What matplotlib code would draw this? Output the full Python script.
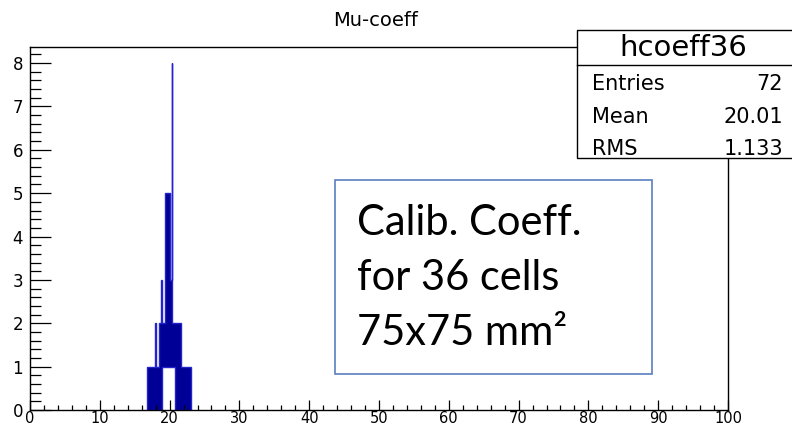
import numpy as np
import matplotlib
matplotlib.use("Agg")
import matplotlib.pyplot as plt
from matplotlib.patches import Rectangle
from matplotlib.ticker import MultipleLocator

# histogram (bin edges, counts, fill floor)
edges = [16.7, 17.9, 18.0, 18.5, 18.8, 18.9, 19.3, 20.0, 20.3, 20.4, 20.8, 21.6, 23.0]
counts = [1, 2, 1, 2, 3, 2, 5, 3, 8, 2, 2, 1]
floor = [0, 0, 0, 0, 0, 1, 1, 1, 1, 1, 0, 0]

title = "Mu-coeff"
hist_name = "hcoeff36"
stat_names = ["Entries", "Mean", "RMS"]
stat_values = ["72", "20.01", "1.133"]
note_lines = ["Calib. Coeff.", "for 36 cells", "75x75 mm\u00b2"]

fig = plt.figure(figsize=(7.92, 4.30), dpi=100)
ax = fig.add_axes([30/792, 20/430, 698/792, 363/430])

ax.stairs(counts, edges, baseline=floor, fill=True,
          facecolor="#000096", edgecolor="#2424cc", linewidth=1.0)

ax.set_xlim(0, 100)
ax.set_ylim(0, 8.37)
ax.xaxis.set_major_locator(MultipleLocator(10))
ax.xaxis.set_minor_locator(MultipleLocator(2))
ax.yaxis.set_major_locator(MultipleLocator(1))
ax.yaxis.set_minor_locator(MultipleLocator(0.2))
ax.tick_params(axis="x", which="major", direction="in", length=7, width=0.9, pad=0.5, labelsize=10.5)
ax.tick_params(axis="x", which="minor", direction="in", length=3.3, width=0.9)
ax.tick_params(axis="y", which="major", direction="in", length=15, width=0.9, pad=5, labelsize=12)
ax.tick_params(axis="y", which="minor", direction="in", length=8, width=0.9)
for s in ax.spines.values():
    s.set_linewidth(1.0)

fig.text(376/792, 1 - 26/430, title, ha="center", va="baseline", fontsize=14)

# stats box (ROOT style), runs off the right edge
fig.add_artist(Rectangle((577/792, 1 - 158/430), 0.3, 128/430, transform=fig.transFigure,
                         facecolor="white", edgecolor="black", linewidth=1.0, zorder=5))
fig.add_artist(plt.Line2D([577/792, 1.0], [1 - 65/430, 1 - 65/430], transform=fig.transFigure,
                          color="black", linewidth=1.0, zorder=6))
fig.text(683/792, 1 - 48/430, hist_name, ha="center", va="center", fontsize=21, zorder=7)
for i, (n, v) in enumerate(zip(stat_names, stat_values)):
    y = 1 - [84, 117, 149][i]/430
    fig.text(592/792, y, n, ha="left", va="center", fontsize=15, zorder=7)
    fig.text(783/792, y, v, ha="right", va="center", fontsize=15, zorder=7)

# annotation box
fig.add_artist(Rectangle((335/792, 1 - 374/430), 317/792, 194/430, transform=fig.transFigure,
                         facecolor="white", edgecolor="#5a7fc0", linewidth=1.2, zorder=5))
for i, line in enumerate(note_lines):
    y = 1 - [235, 290, 345][i]/430
    fig.text(357/792, y, line, ha="left", va="baseline", fontsize=30,
             family=["Lato", "DejaVu Sans"], zorder=7)

fig.savefig("out.png", dpi=100)
